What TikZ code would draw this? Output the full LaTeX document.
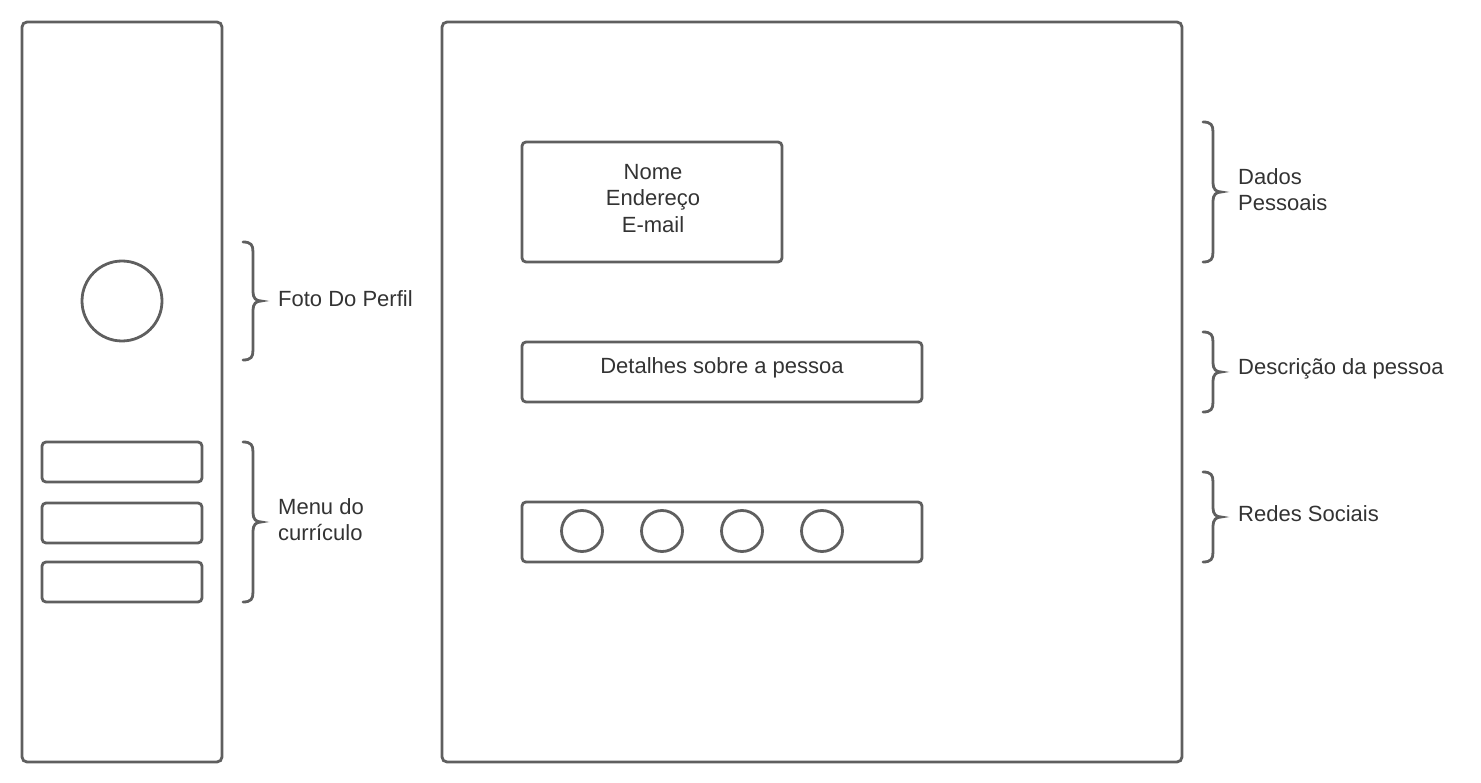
\documentclass[tikz,border=0pt]{standalone}
\usepackage{fontspec}
\setmainfont{Liberation Sans}
\definecolor{ln}{HTML}{5F5F5F}
\definecolor{tx}{HTML}{333333}
\begin{document}
\begin{tikzpicture}[x=1pt,y=-1pt,
  frame/.style={draw=ln,line width=2.8pt,rounded corners=5pt},
  btn/.style={draw=ln,line width=2.8pt,rounded corners=4pt},
  dot/.style={draw=ln,line width=2.8pt},
  lbl/.style={text=tx,font=\fontsize{22}{26.5}\selectfont,inner sep=0pt},
  brc/.style={draw=ln,line width=2.8pt,line cap=round}]
\useasboundingbox (0,0) rectangle (1481,783);
% panels
\path[frame] (22,22) rectangle (222,762);
\coordinate (leftpanel) at (122,392);
\path[frame] (442,22) rectangle (1182,762);
\coordinate (mainpanel) at (812,392);
% left panel content
\draw[dot] (122,301) circle (40);
\coordinate (photo) at (122,301);
\path[btn] (42,442) rectangle (202,482);
\path[btn] (42,503) rectangle (202,543);
\path[btn] (42,562) rectangle (202,602);
% main panel boxes
\path[btn] (522,142) rectangle (782,262);
\node[lbl,align=center] (dados) at (653,198.5) {Nome\\Endereço\\E-mail};
\path[btn] (522,342) rectangle (922,402);
\node[lbl] (det) at (722,368) {Detalhes sobre a pessoa};
\path[btn] (522,502) rectangle (922,562);
\foreach \cx/\nm in {582/s1,662/s2,742/s3,822/s4}{
  \draw[dot] (\cx,531) circle (20.5);
  \coordinate (\nm) at (\cx,531);
}
% braces: \mybrace{x}{top}{bottom}{mid}
\newcommand{\mybrace}[4]{%
  \draw[brc] (#1,#2) .. controls (#1+8,#2) and (#1+10,#2+3) .. (#1+10,#2+10)
    -- (#1+10,#4-9) .. controls (#1+10,#4-3) and (#1+13,#4) .. (#1+18,#4)
    .. controls (#1+13,#4) and (#1+10,#4+3) .. (#1+10,#4+9)
    -- (#1+10,#3-10) .. controls (#1+10,#3-3) and (#1+8,#3) .. (#1,#3);}
\mybrace{243}{242}{360}{301}
\mybrace{243}{442}{602}{522}
\mybrace{1203}{122}{262}{192}
\mybrace{1203}{332}{412}{372}
\mybrace{1203}{472}{562}{517}
% labels
\node[lbl,anchor=west] (foto) at (278,299) {Foto Do Perfil};
\node[lbl,anchor=west,align=left] (menu) at (278,519.5) {Menu do\\currículo};
\node[lbl,anchor=west,align=left] (dp) at (1238,189.5) {Dados\\Pessoais};
\node[lbl,anchor=west] (desc) at (1238,369) {Descrição da pessoa};
\node[lbl,anchor=west] (redes) at (1238,514) {Redes Sociais};
\end{tikzpicture}
\end{document}
